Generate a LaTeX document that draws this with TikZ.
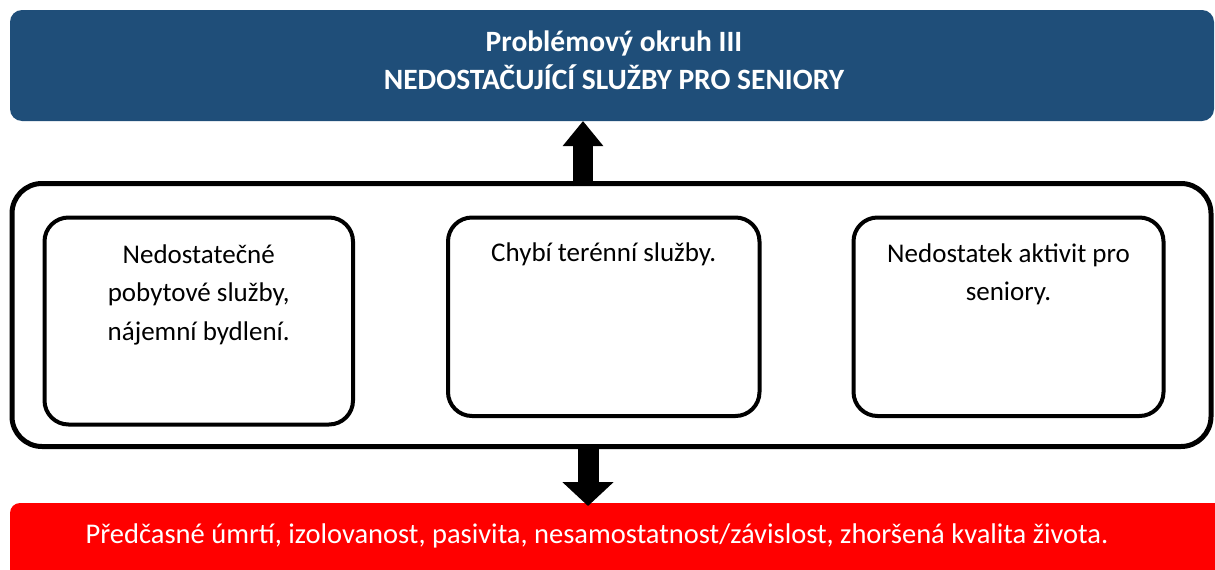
\documentclass[tikz,border=0pt]{standalone}
\usepackage{fontspec}
\setmainfont{Carlito}
\usetikzlibrary{arrows.meta}
\definecolor{titleblue}{RGB}{31,78,121}
\definecolor{effectred}{RGB}{255,0,0}
\tikzset{
  titlebox/.style={fill=titleblue, draw=none, rounded corners=12pt, outer sep=0pt},
  effectbox/.style={fill=effectred, draw=none, rounded corners=10pt, outer sep=0pt},
  groupbox/.style={draw=black, line width=5pt, rounded corners=30pt, outer sep=0pt},
  causebox/.style={draw=black, line width=4pt, rounded corners=24pt, outer sep=0pt},
  causetext/.style={align=center, anchor=north, inner sep=0pt, font=\fontsize{27}{38.5}\selectfont},
  uparrow/.style={line width=20pt, -{Triangle[length=25pt, width=39pt]}},
  downarrow/.style={line width=21pt, -{Triangle[length=24pt, width=50pt]}}
}
\begin{document}
\begin{tikzpicture}[x=1pt, y=-1pt]
\clip (0,0) rectangle (1215,570);
\fill[white] (0,0) rectangle (1215,570);
% title
\node[titlebox, minimum width=1204pt, minimum height=111pt, anchor=north west] (title) at (10,10) {};
\node[anchor=base, align=center, text=white, inner sep=0pt, font=\fontsize{29.5}{38}\bfseries\selectfont] (titletext) at (614,89) {Problémový okruh III\\NEDOSTAČUJÍCÍ SLUŽBY PRO SENIORY};
% group
\node[groupbox, minimum width=1199pt, minimum height=263pt, anchor=north west] (group) at (12,183.5) {};
\node[causebox, minimum width=308.5pt, minimum height=207pt, anchor=north west] (c1) at (44.5,217.5) {};
\node[causebox, minimum width=311.5pt, minimum height=198.5pt, anchor=north west] (c2) at (448,217.5) {};
\node[causebox, minimum width=310pt, minimum height=198.5pt, anchor=north west] (c3) at (853.5,217.5) {};
\node[causetext] (t1) at ([yshift=-27pt]c1.north) {Nedostatečné\\pobytové služby,\\nájemní bydlení.};
\node[causetext] (t2) at ([yshift=-25pt]c2.north) {Chybí terénní služby.};
\node[causetext] (t3) at ([yshift=-26pt]c3.north) {Nedostatek aktivit pro\\seniory.};
% effect
\node[effectbox, minimum width=1230pt, minimum height=100pt, anchor=north west] (effect) at (10,503) {};
\node[anchor=base, text=white, inner sep=0pt, font=\fontsize{28.5}{32}\selectfont] (effecttext) at (597,543) {Předčasné úmrtí, izolovanost, pasivita, nesamostatnost/závislost, zhoršená kvalita života.};
% arrows
\coordinate (ua) at (583,0);
\coordinate (da) at (588,0);
\draw[uparrow] ([yshift=-2.5pt]group.north -| ua) -- (title.south -| ua);
\draw[downarrow] ([yshift=1.5pt]group.south -| da) -- ([yshift=-3pt]effect.north -| da);
\end{tikzpicture}
\end{document}
